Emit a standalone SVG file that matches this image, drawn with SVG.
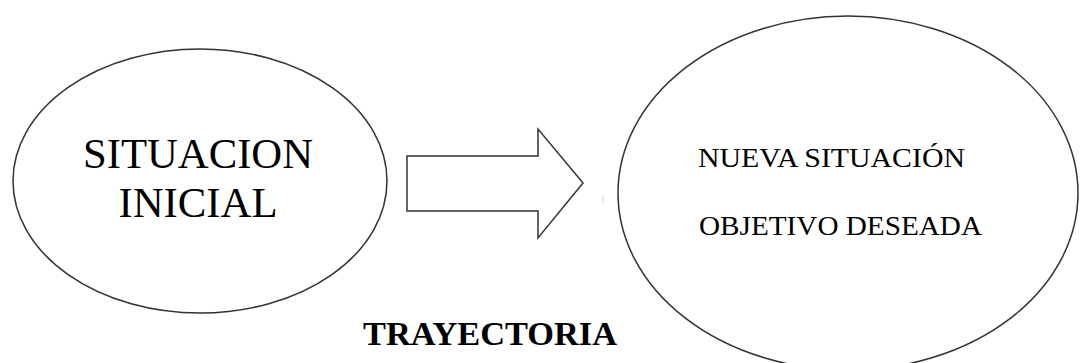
<svg xmlns="http://www.w3.org/2000/svg" width="1081" height="363" viewBox="0 0 1081 363">
  <style>
    .shape { fill: #ffffff; stroke: #333333; stroke-width: 1.5; }
    .label { font-family: "Liberation Serif", "Times New Roman", serif; fill: #000000; }
    .big { font-size: 42px; }
    .mid { font-size: 27px; }
    .title { font-size: 34px; font-weight: bold; }
  </style>
  <rect width="1081" height="363" fill="#ffffff"/>

  <g id="node-inicial">
    <ellipse class="shape" cx="200" cy="181" rx="187" ry="132"/>
    <text class="label big" x="198" y="168" text-anchor="middle" textLength="230" lengthAdjust="spacingAndGlyphs">SITUACION</text>
    <text class="label big" x="198" y="217" text-anchor="middle" textLength="159" lengthAdjust="spacingAndGlyphs">INICIAL</text>
  </g>

  <g id="node-objetivo">
    <ellipse class="shape" cx="848" cy="193" rx="230" ry="177"/>
    <text class="label mid" x="698" y="167" textLength="267" lengthAdjust="spacingAndGlyphs">NUEVA SITUACIÓN</text>
    <text class="label mid" x="699" y="235" textLength="283" lengthAdjust="spacingAndGlyphs">OBJETIVO DESEADA</text>
  </g>

  <g id="connectors">
    <!-- block arrow from the initial state to the target state -->
    <path class="shape" d="M407,156 L538,156 L538,129 L583,183 L538,238 L538,211 L407,211 Z" stroke-linejoin="miter"/>
    <line x1="603" y1="196" x2="603" y2="203" stroke="#cccccc" stroke-width="1"/>
  </g>

  <g id="caption">
    <text class="label title" x="363" y="345" textLength="254" lengthAdjust="spacingAndGlyphs">TRAYECTORIA</text>
  </g>
</svg>
